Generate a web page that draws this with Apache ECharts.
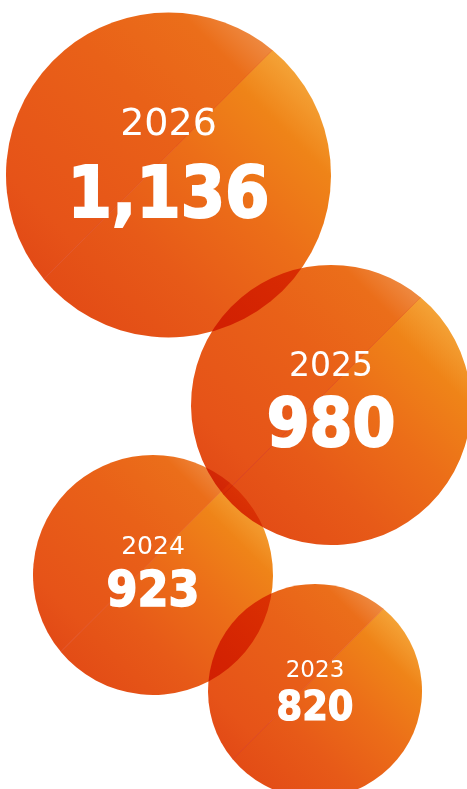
<!DOCTYPE html>
<html><head><meta charset="utf-8">
<script src="https://cdn.jsdelivr.net/npm/echarts@6/dist/echarts.min.js"></script>
<style>html,body{margin:0;padding:0;background:#fff;overflow:hidden}#c{width:467px;height:789px}</style>
</head><body><div id="c"></div>
<script>
// ---- data ----
const years = ['2026', '2025', '2024', '2023'];
const values = [1136, 980, 923, 820];

// ---- layout (units of the hidden pixel-scaled axes) ----
const bubbleCenterX = [168.5, 331, 153, 315];
const bubbleCenterY = [175, 405, 575, 691];
const bubbleRadius = [162.5, 140, 120, 107];
const yearFontSize = [38, 33, 25, 23];
const valueFontSize = [71, 68.5, 49.5, 41];
const valueStroke = [2, 2, 1.5, 1.2];
const yearOffset = [-50, -38, -28, -20];
const valueOffset = [24, 23, 18, 18];

// ---- styles ----
const upperStops = [
  {offset: 0, color: '#E24A16'},
  {offset: 0.15, color: '#E65318'},
  {offset: 0.6, color: '#E96118'},
  {offset: 0.88, color: '#EB6E1A'},
  {offset: 1, color: '#EE8A42'}
];
const lowerStops = [
  {offset: 0, color: '#E34C16'},
  {offset: 0.3, color: '#E75A18'},
  {offset: 0.6, color: '#EC6E18'},
  {offset: 0.85, color: '#EF8418'},
  {offset: 1, color: '#F4A236'}
];

const chart = echarts.init(document.getElementById('c'), null, {renderer: 'canvas'});

const seriesData = values.map((v, i) => [bubbleCenterX[i], bubbleCenterY[i], v, i]);

function segmentPaths(cx, cy, r, off) {
  const s = Math.SQRT1_2;
  const mx = cx - off * s, my = cy - off * s;
  const h = Math.sqrt(r * r - off * off);
  const p1 = [mx + h * s, my - h * s];
  const p2 = [mx - h * s, my + h * s];
  return {
    lower: 'M' + p1[0] + ' ' + p1[1] + ' A' + r + ' ' + r + ' 0 1 1 ' + p2[0] + ' ' + p2[1] + ' Z',
    upper: 'M' + p2[0] + ' ' + p2[1] + ' A' + r + ' ' + r + ' 0 0 1 ' + p1[0] + ' ' + p1[1] + ' Z'
  };
}

function renderBubble(params, api) {
  const i = api.value(3);
  const c = api.coord([api.value(0), api.value(1)]);
  const r = api.size([bubbleRadius[i], 0])[0];
  const cx = c[0], cy = c[1];
  const s = Math.SQRT1_2;
  const base = r * 0.09;
  const up = segmentPaths(cx, cy, r, base).upper;
  const low = segmentPaths(cx, cy, r, base + 0.25).lower;
  const gx1 = cx - r * s, gy1 = cy + r * s, gx2 = cx + r * s, gy2 = cy - r * s;
  return {
    type: 'group',
    children: [
      {
        type: 'path', name: 'bubble-part',
        shape: {pathData: up},
        style: {fill: new echarts.graphic.LinearGradient(gx1, gy1, gx2, gy2, upperStops, true), blend: 'multiply'}
      },
      {
        type: 'path', name: 'bubble-part',
        shape: {pathData: low},
        style: {fill: new echarts.graphic.LinearGradient(gx1, gy1, gx2, gy2, lowerStops, true), blend: 'multiply'}
      }
    ]
  };
}

function renderLabel(params, api) {
  const i = api.value(3);
  const c = api.coord([api.value(0), api.value(1)]);
  return {
    type: 'group',
    children: [
      {
        type: 'text',
        style: {
          text: years[i], x: c[0], y: c[1] + yearOffset[i],
          fill: '#ffffff', align: 'center', verticalAlign: 'middle',
          font: 'normal ' + yearFontSize[i] + 'px "DejaVu Sans", sans-serif'
        }
      },
      {
        type: 'text',
        style: {
          text: api.value(2).toLocaleString('en-US'), x: c[0], y: c[1] + valueOffset[i],
          fill: '#ffffff', align: 'center', verticalAlign: 'middle',
          stroke: '#ffffff', lineWidth: valueStroke[i],
          font: 'bold ' + valueFontSize[i] + 'px "DejaVu Sans Condensed", "DejaVu Sans", sans-serif'
        }
      }
    ]
  };
}

chart.setOption({
  animation: false,
  backgroundColor: '#ffffff',
  grid: {left: 0, right: 0, top: 0, bottom: 0},
  xAxis: {type: 'value', min: 0, max: 467, show: false},
  yAxis: {type: 'value', min: 0, max: 789, inverse: true, show: false},
  series: [
    {type: 'custom', clip: false, renderItem: renderBubble, data: seriesData, encode: {x: 0, y: 1}, z: 1},
    {type: 'custom', clip: false, renderItem: renderLabel, data: seriesData, encode: {x: 0, y: 1}, z: 5}
  ]
});

// make sure the bubbles are composited with multiply (overlaps turn deep red)
const zr = chart.getZr();
zr.storage.getDisplayList(true).forEach(function (el) {
  if (el.name === 'bubble-part') {
    el.style.blend = 'multiply';
    el.markRedraw();
  }
});
zr.refreshImmediately();
</script>
</body></html>
